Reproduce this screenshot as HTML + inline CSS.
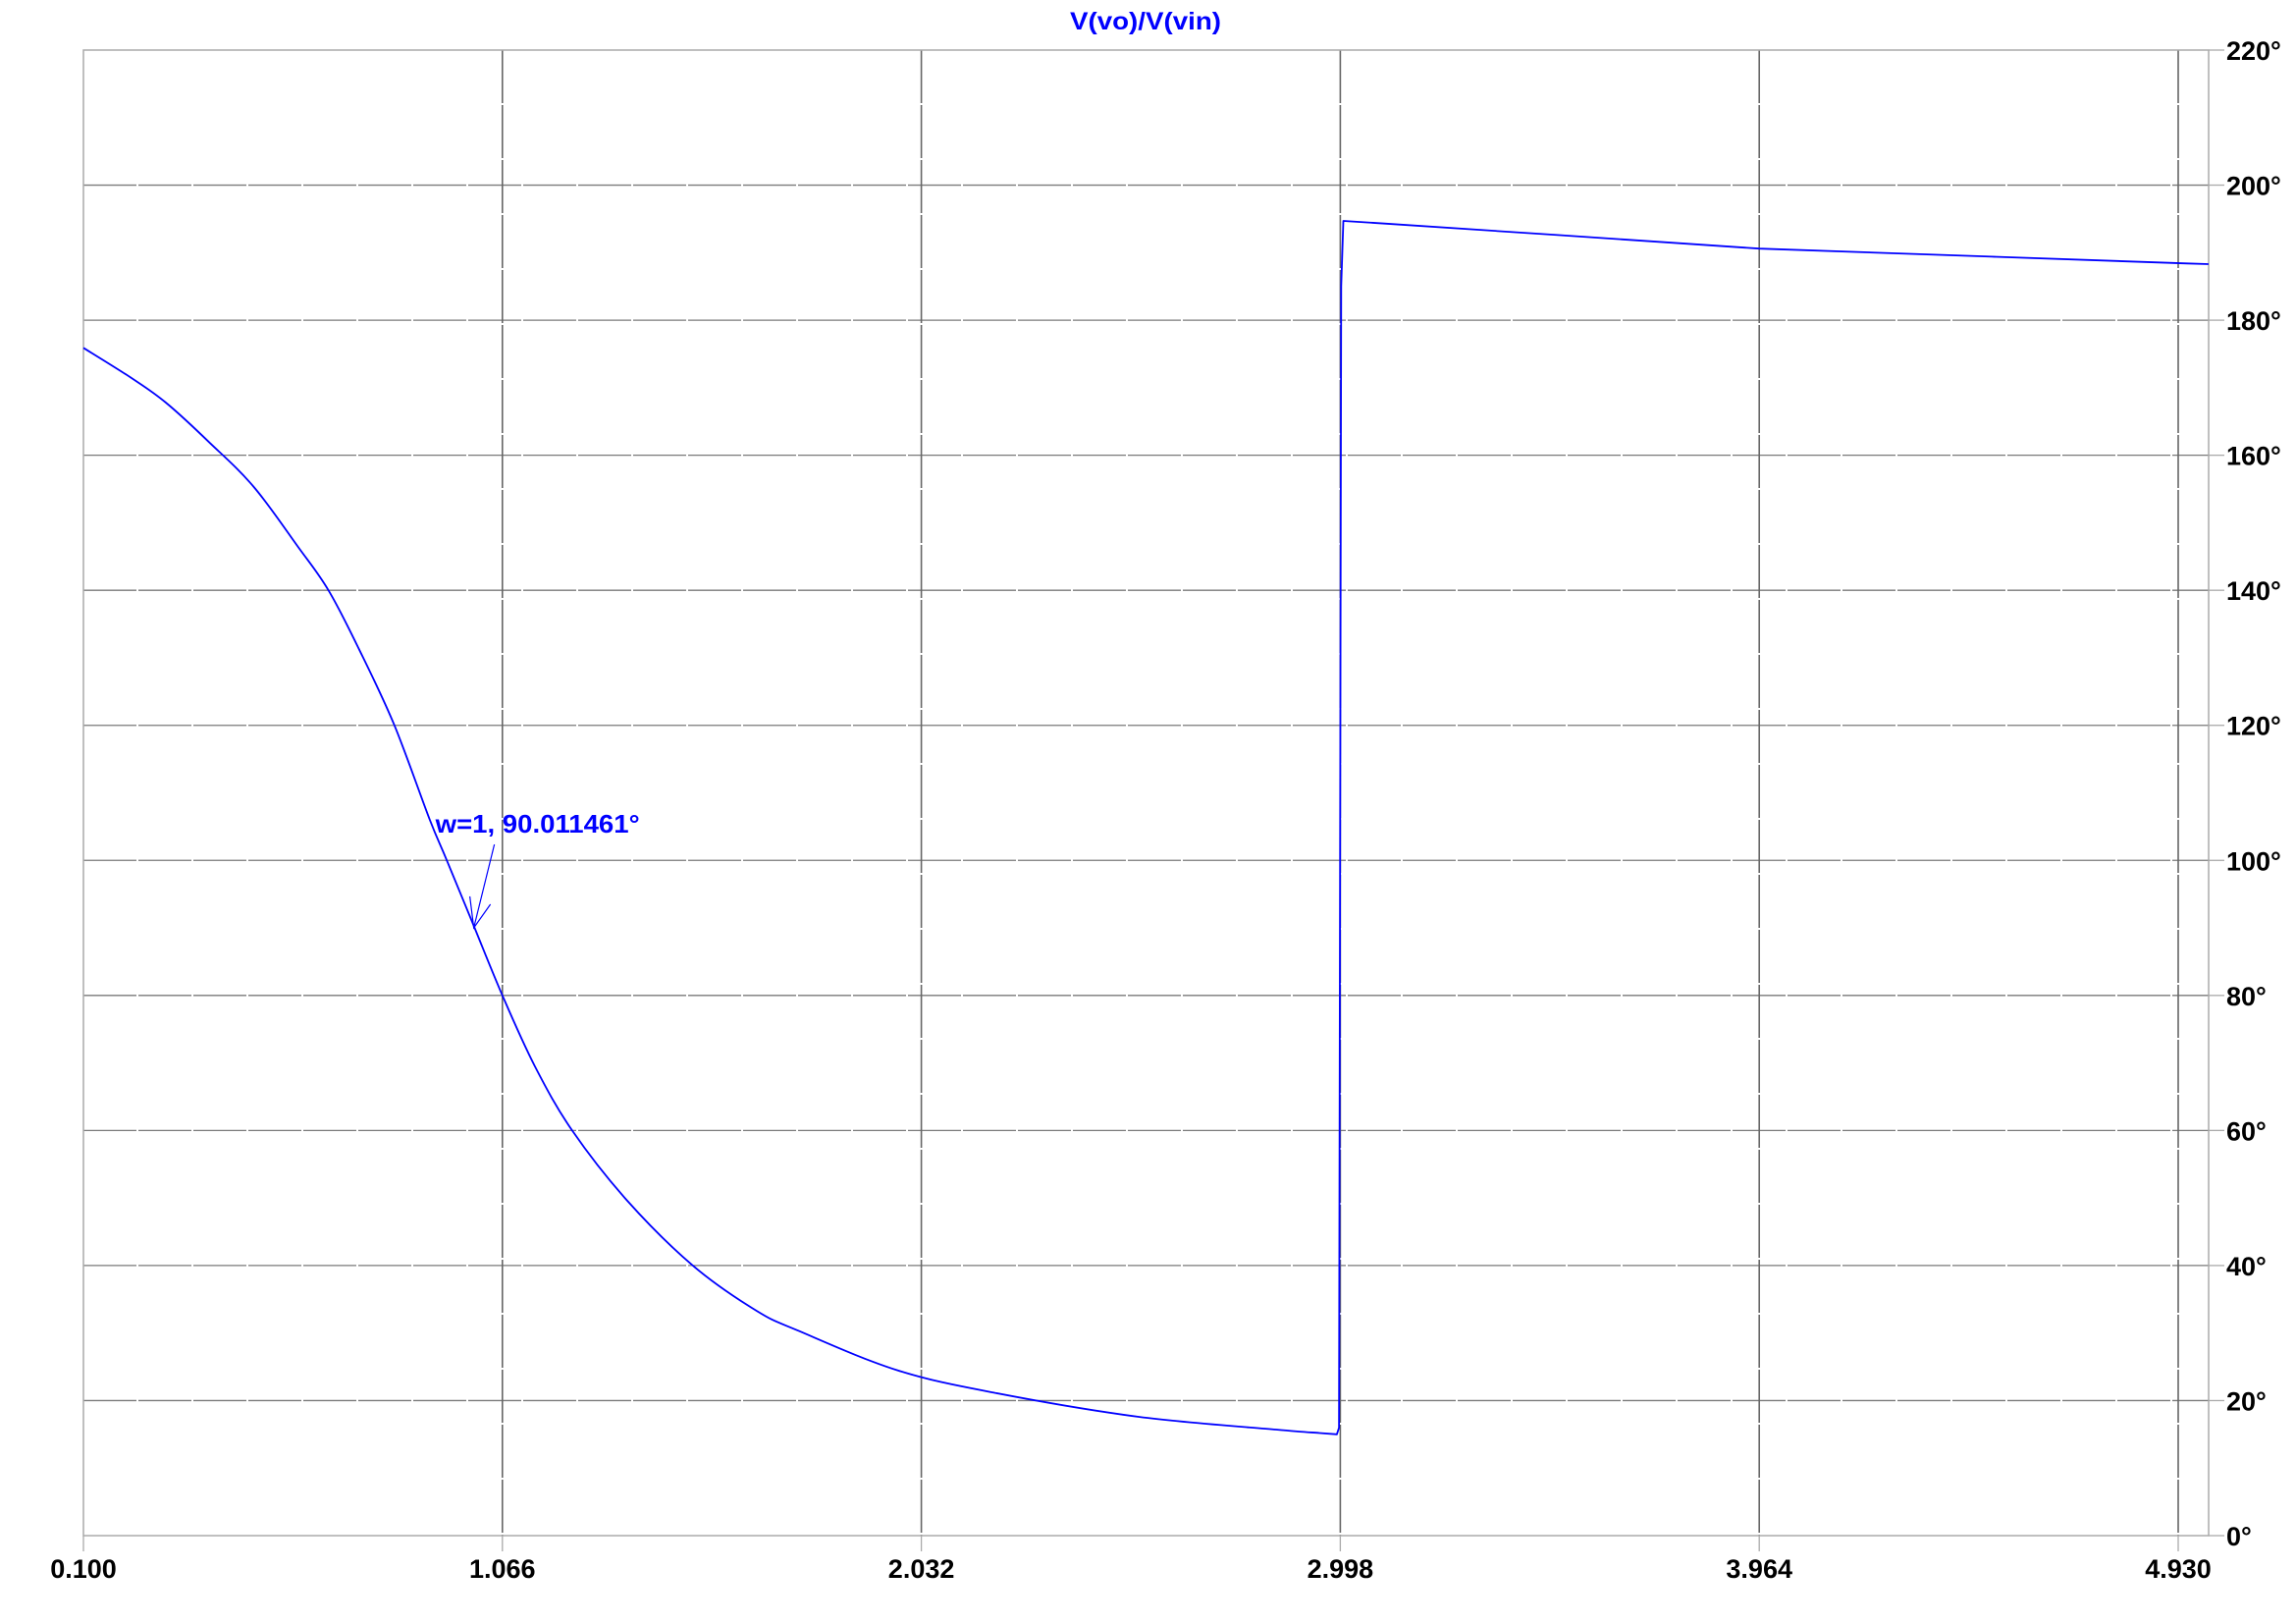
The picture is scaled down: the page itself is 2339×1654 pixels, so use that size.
<!DOCTYPE html>
<html><head><meta charset="utf-8"><style>
html,body{margin:0;padding:0;background:#fff;}
svg{display:block;font-family:"Liberation Sans",Arial,sans-serif;}
</style></head><body>
<svg id="chart" width="2339" height="1654" viewBox="0 0 2339 1654" xmlns="http://www.w3.org/2000/svg">
<text x="1167" y="30" text-anchor="middle" font-size="25" font-weight="bold" fill="#0000ff" textLength="154" lengthAdjust="spacingAndGlyphs">V(vo)/V(vin)</text>
<g id="grid"></g>
<g id="axes"></g>
<g id="series"></g>
<g id="annot"></g>
</svg>
<script>
const xTicks = [0.100, 1.066, 2.032, 2.998, 3.964, 4.930];
const xTickLabels = ["0.100", "1.066", "2.032", "2.998", "3.964", "4.930"];
const yTicks = [0, 20, 40, 60, 80, 100, 120, 140, 160, 180, 200, 220];
const yTickLabels = ["0°","20°","40°","60°","80°","100°","120°","140°","160°","180°","200°","220°"];
const wValues = [0.100,0.209,0.290,0.392,0.493,0.594,0.665,0.736,0.817,0.898,0.938,1.002,1.066,1.141,1.227,1.354,1.505,1.652,1.75,1.976,2.205,2.533,2.85,2.95,2.99,2.995,3.000,3.005,3.10,3.50,3.964,4.50,4.95,5.0];
const phaseValues = [175.9,171.5,167.8,161.8,155.3,146.5,140,131.2,120,106.1,100,90,80,69.5,60,49.6,40,33.3,30.3,24.5,21.1,17.6,15.7,15.2,15.0,16,185,194.7,194.3,192.6,190.6,189.4,188.4,188.3];
const annotW = 1.0, annotPhase = 90.011461;

const X0=85, X1=2219, W0=0.1, W1=4.93;
const Y0=1564, Y1=51, P0=0, P1=220;
const sx = w => X0 + (w - W0) * (X1 - X0) / (W1 - W0);
const sy = p => Y0 - (p - P0) * (Y0 - Y1) / (P1 - P0);
const NS = "http://www.w3.org/2000/svg";
function mk(tag, attrs, parent){ const e=document.createElementNS(NS,tag); for(const k in attrs) e.setAttribute(k,attrs[k]); parent.appendChild(e); return e; }
const grid=document.getElementById('grid'), axes=document.getElementById('axes'), series=document.getElementById('series'), annot=document.getElementById('annot');
const RIGHT=2250;

let fr = mk('rect',{x:X0,y:Y1,width:RIGHT-X0,height:Y0-Y1,fill:'none',stroke:'#aaaaaa','stroke-width':1.5},axes);



yTicks.forEach((p,i)=>{
  const y=sy(p);
  if(p>P0 && p<P1){
    const l=mk('line',{x1:X0,x2:RIGHT,y1:y,y2:y,stroke:'#7a7a7a','stroke-width':1.3,'stroke-dasharray':'54 2'},grid);
    
    
  }
  const t=mk('line',{x1:RIGHT,x2:2266,y1:y,y2:y,stroke:'#aaaaaa','stroke-width':1.3},axes);
  
  
  const tx=mk('text',{x:2268,y:y+10,'font-size':27,'font-weight':'bold',fill:'#000'},axes);
  tx.textContent=yTickLabels[i];
  
  
});
xTicks.forEach((w,i)=>{
  const x=sx(w);
  if(i>0){
    const l=mk('line',{x1:x,x2:x,y1:Y1,y2:Y0,stroke:'#666666','stroke-width':1.6,'stroke-dasharray':'54 2'},grid);
    
    
  }
  const t=mk('line',{x1:x,x2:x,y1:Y0,y2:1580,stroke:'#aaaaaa','stroke-width':1.3},axes);
  
  
  const tx=mk('text',{x:x,y:1607,'text-anchor':'middle','font-size':27,'font-weight':'bold',fill:'#000'},axes);
  tx.textContent=xTickLabels[i];
  
  
});

const P = wValues.map((w,i)=>[sx(w), sy(phaseValues[i])]);
const JUMP = 24;
let d = `M${P[0][0].toFixed(1)},${P[0][1].toFixed(1)}`;
for(let i=0;i<JUMP;i++){
  const p0=P[Math.max(0,i-1)], p1=P[i], p2=P[i+1], p3=P[Math.min(JUMP,i+2)];
  const c1=[p1[0]+(p2[0]-p0[0])/6, p1[1]+(p2[1]-p0[1])/6];
  const c2=[p2[0]-(p3[0]-p1[0])/6, p2[1]-(p3[1]-p1[1])/6];
  d += ` C${c1[0].toFixed(1)},${c1[1].toFixed(1)} ${c2[0].toFixed(1)},${c2[1].toFixed(1)} ${p2[0].toFixed(1)},${p2[1].toFixed(1)}`;
}
for(let i=JUMP+1;i<P.length;i++) d += ` L${P[i][0].toFixed(1)},${P[i][1].toFixed(1)}`;
const pl = mk('path',{d:d,fill:'none',stroke:'#0000ff','stroke-width':1.8,'stroke-linejoin':'round'},series);



const ax=sx(annotW), ay=sy(annotPhase);
const a1=mk('line',{x1:ax+21,y1:ay-85,x2:ax,y2:ay,stroke:'#0000ff','stroke-width':1.2},annot);


const a2=mk('polyline',{points:`${ax-4},${ay-32} ${ax},${ay} ${ax+17},${ay-24}`,fill:'none',stroke:'#0000ff','stroke-width':1.2},annot);


const at=mk('text',{x:ax-39,y:ay-97,'font-size':26,'font-weight':'bold',fill:'#0000ff',textLength:208,lengthAdjust:'spacingAndGlyphs'},annot);
at.textContent='w=1, 90.011461°';


</script>
</body></html>
